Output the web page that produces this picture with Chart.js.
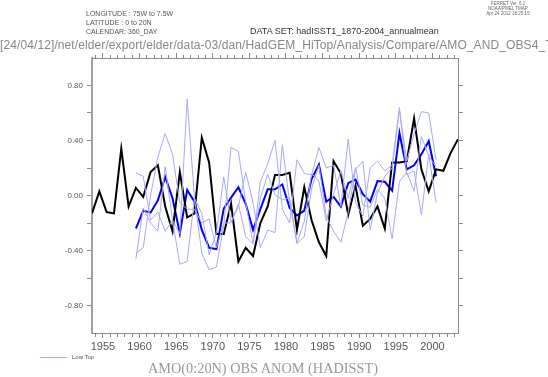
<!DOCTYPE html>
<html>
<head>
<meta charset="utf-8">
<script src="https://cdn.jsdelivr.net/npm/chart.js@4.4.1/dist/chart.umd.min.js"></script>
<style>
  html, body { margin: 0; padding: 0; background: #fff; }
  #wrap { position: relative; width: 548px; height: 377px; overflow: hidden;
          font-family: "Liberation Sans", Arial, sans-serif; color: #555; }
  #wrap canvas { position: absolute; left: 0; top: 0; }
  .txt { position: absolute; white-space: nowrap; line-height: 1; }
</style>
</head>
<body>
<div id="wrap">
  <canvas id="chart" width="548" height="377"></canvas>

  <div class="txt" style="left:86px;top:10px;font-size:7px;">LONGITUDE : 75W to 7.5W</div>
  <div class="txt" style="left:86px;top:19px;font-size:7px;">LATITUDE : 0 to 20N</div>
  <div class="txt" style="left:86px;top:28px;font-size:7px;">CALENDAR: 360_DAY</div>
  <div class="txt" style="left:250px;top:27px;font-size:9px;color:#333;">DATA SET: hadISST1_1870-2004_annualmean</div>
  <div class="txt" style="left:486px;top:2px;font-size:4.5px;text-align:center;line-height:1.1;width:44px;color:#666;">FERRET Ver. 6.1<br>NOAA/PMEL TMAP<br>Apr 24 2012 18:25:15</div>
  <div class="txt" style="left:0px;top:39px;font-size:12px;letter-spacing:0.1px;color:#888;">[24/04/12]/net/elder/export/elder/data-03/dan/HadGEM_HiTop/Analysis/Compare/AMO_AND_OBS4_T</div>

  <div style="position:absolute;left:40px;top:357px;width:27px;height:1px;background:#a8a8ff;"></div>
  <div class="txt" style="left:72px;top:354px;font-size:6px;color:#555;">Low Top</div>

  <div class="txt" style="left:148px;top:361px;font-size:14.3px;color:#999;font-family:'Liberation Serif','Times New Roman',serif;">AMO(0:20N) OBS ANOM (HADISST)</div>
</div>

<script>
// observed annual means (black), 1953-2003
const years = [1953, 1954, 1955, 1956, 1957, 1958, 1959, 1960, 1961, 1962,
    1963, 1964, 1965, 1966, 1967, 1968, 1969, 1970, 1971, 1972,
    1973, 1974, 1975, 1976, 1977, 1978, 1979, 1980, 1981, 1982,
    1983, 1984, 1985, 1986, 1987, 1988, 1989, 1990, 1991, 1992,
    1993, 1994, 1995, 1996, 1997, 1998, 1999, 2000, 2001, 2002, 2003];
const obsAnom = [-0.13, 0.03, -0.12, -0.13, 0.34, -0.08, 0.055, -0.01, 0.17, 0.22,
    -0.08, -0.26, 0.17, -0.16, -0.13, 0.42, 0.24, -0.28, -0.28, -0.06,
    -0.48, -0.38, -0.44, -0.20, -0.08, 0.15, 0.15, 0.165, -0.25, 0.06,
    -0.18, -0.34, -0.44, 0.25, 0.16, -0.14, 0.07, -0.22, -0.17, -0.08,
    -0.24, 0.24, 0.24, 0.25, 0.56, 0.19, 0.03, 0.19, 0.18, 0.31, 0.41];

// model "Low Top" runs and their mean, 1959-2000
const modelYears = [1959, 1960, 1961, 1962, 1963, 1964, 1965, 1966, 1967, 1968,
    1969, 1970, 1971, 1972, 1973, 1974, 1975, 1976, 1977, 1978,
    1979, 1980, 1981, 1982, 1983, 1984, 1985, 1986, 1987, 1988,
    1989, 1990, 1991, 1992, 1993, 1994, 1995, 1996, 1997, 1998, 1999, 2000];
const lowTopMean = [-0.24, -0.11, -0.125, -0.035, 0.135, -0.02, -0.275, 0.04, -0.045, -0.25,
    -0.38, -0.39, -0.095, -0.015, 0.06, -0.06, -0.25, -0.10, 0.045, 0.045,
    0.08, -0.09, -0.145, -0.11, 0.12, 0.225, -0.045, -0.01, -0.08, 0.09,
    0.115, 0.01, -0.045, 0.105, 0.10, 0.035, 0.455, 0.19, 0.22, 0.30, 0.395, 0.14];
const lowTopRun1 = [0.165, 0.14, -0.18, -0.12, -0.26, -0.18, -0.28, 0.70, -0.02, -0.42,
    -0.54, -0.52, -0.22, 0.35, 0.32, -0.05, -0.35, 0.10, 0.23, 0.40,
    -0.10, -0.20, 0.26, 0.16, 0.15, 0.35, 0.20, 0.22, -0.08, 0.41,
    -0.05, -0.15, 0.20, 0.25, 0.18, 0.22, 0.64, 0.15, 0.18, -0.14, 0.30, -0.05];
const lowTopRun2 = [-0.42, -0.38, 0.00, 0.28, 0.45, 0.30, -0.05, -0.10, -0.10, -0.20,
    -0.17, -0.38, -0.20, -0.20, -0.08, 0.17, -0.05, -0.38, -0.25, -0.27,
    0.37, -0.05, -0.35, -0.30, 0.05, 0.22, -0.15, -0.26, -0.34, -0.12,
    0.19, 0.25, -0.25, 0.02, 0.14, 0.20, 0.62, 0.25, 0.45, 0.61, 0.60, 0.26];
const lowTopRun3 = [-0.46, -0.09, -0.20, -0.26, 0.21, -0.18, -0.50, -0.48, -0.02, -0.13,
    -0.43, -0.27, 0.135, -0.195, -0.06, -0.30, -0.35, -0.02, 0.155, 0.005,
    -0.03, -0.02, -0.345, -0.19, 0.16, 0.105, -0.185, 0.01, 0.18, -0.02,
    0.205, -0.07, -0.085, 0.045, -0.02, -0.315, 0.10, 0.17, 0.03, 0.43, 0.285, 0.21];

// axes
const xTickYears = [1954, 1955, 1956, 1957, 1958, 1959, 1960, 1961, 1962, 1963,
    1964, 1965, 1966, 1967, 1968, 1969, 1970, 1971, 1972, 1973,
    1974, 1975, 1976, 1977, 1978, 1979, 1980, 1981, 1982, 1983,
    1984, 1985, 1986, 1987, 1988, 1989, 1990, 1991, 1992, 1993,
    1994, 1995, 1996, 1997, 1998, 1999, 2000, 2001, 2002, 2003];
const yTicks = [-0.8, -0.6, -0.4, -0.2, 0, 0.2, 0.4, 0.6, 0.8];
const yTickLabels = ["-0.80", "", "-0.40", "", "0.00", "", "0.40", "", "0.80"];

// annual means sit at mid-year
function toPoints(yrs, vals) {
    return yrs.map((yr, i) => ({ x: yr + 0.5, y: vals[i] }));
}

const runStyle = { borderColor: "#a8a8ff", borderWidth: 1, pointRadius: 0, fill: false };
const axisGrey = "#8a8a8a";

function minorDash(ctx, outerFirst) {
    const major = ctx.tick && ctx.tick.value % 5 === 0;
    if (major) return [];
    return outerFirst ? [0, 2, 3, 10] : [3, 10];
}

Chart.defaults.font.family = "'Liberation Sans', Arial, sans-serif";

new Chart(document.getElementById("chart"), {
    type: "line",
    data: {
        datasets: [
            Object.assign({ label: "Low Top 1", data: toPoints(modelYears, lowTopRun1) }, runStyle),
            Object.assign({ label: "Low Top 2", data: toPoints(modelYears, lowTopRun2) }, runStyle),
            Object.assign({ label: "Low Top 3", data: toPoints(modelYears, lowTopRun3) }, runStyle),
            {
                label: "HadISST",
                data: toPoints(years, obsAnom),
                borderColor: "#000000",
                borderWidth: 2,
                pointRadius: 0,
            },
            {
                label: "Low Top mean",
                data: toPoints(modelYears, lowTopMean),
                borderColor: "#0000ff",
                borderWidth: 2,
                pointRadius: 0,
            },
        ],
    },
    options: {
        responsive: false,
        animation: false,
        layout: { padding: 0 },
        plugins: {
            legend: { display: false },
            tooltip: { enabled: false },
        },
        scales: {
            x: {
                type: "linear",
                position: "bottom",
                min: 1953.5,
                max: 2003.5,
                afterBuildTicks: (s) => { s.ticks = xTickYears.map((v) => ({ value: v })); },
                afterFit: (s) => { s.height = 44; },
                ticks: {
                    autoSkip: false,
                    maxRotation: 0,
                    padding: 2,
                    color: "#555",
                    font: { size: 11 },
                    callback: (v) => (v % 5 === 0 ? String(v) : ""),
                },
                grid: {
                    drawOnChartArea: false,
                    tickLength: 5,
                    tickColor: axisGrey,
                    tickBorderDash: (ctx) => minorDash(ctx, false),
                },
                border: { color: axisGrey, width: 1 },
            },
            xTop: {
                type: "linear",
                position: "top",
                min: 1953.5,
                max: 2003.5,
                afterBuildTicks: (s) => { s.ticks = xTickYears.map((v) => ({ value: v })); },
                afterFit: (s) => { s.height = 58; },
                ticks: { autoSkip: false, maxRotation: 0, callback: () => "" },
                grid: {
                    drawOnChartArea: false,
                    tickLength: 5,
                    tickColor: axisGrey,
                    tickBorderDash: (ctx) => minorDash(ctx, true),
                },
                border: { color: axisGrey, width: 1 },
            },
            y: {
                type: "linear",
                position: "left",
                min: -1,
                max: 1,
                afterBuildTicks: (s) => { s.ticks = yTicks.map((v) => ({ value: v })); },
                afterFit: (s) => { s.width = 92; },
                ticks: {
                    padding: 4,
                    color: "#555",
                    font: { size: 8 },
                    callback: (v, i) => yTickLabels[i],
                },
                grid: { drawOnChartArea: false, tickLength: 5, tickColor: axisGrey },
                border: { color: "#a0a0a0", width: 2 },
            },
            yRight: {
                type: "linear",
                position: "right",
                min: -1,
                max: 1,
                afterBuildTicks: (s) => { s.ticks = yTicks.map((v) => ({ value: v })); },
                afterFit: (s) => { s.width = 90; },
                ticks: { callback: () => "" },
                grid: { drawOnChartArea: false, tickLength: 5, tickColor: axisGrey },
                border: { color: axisGrey, width: 1 },
            },
        },
    },
});
</script>
</body>
</html>
